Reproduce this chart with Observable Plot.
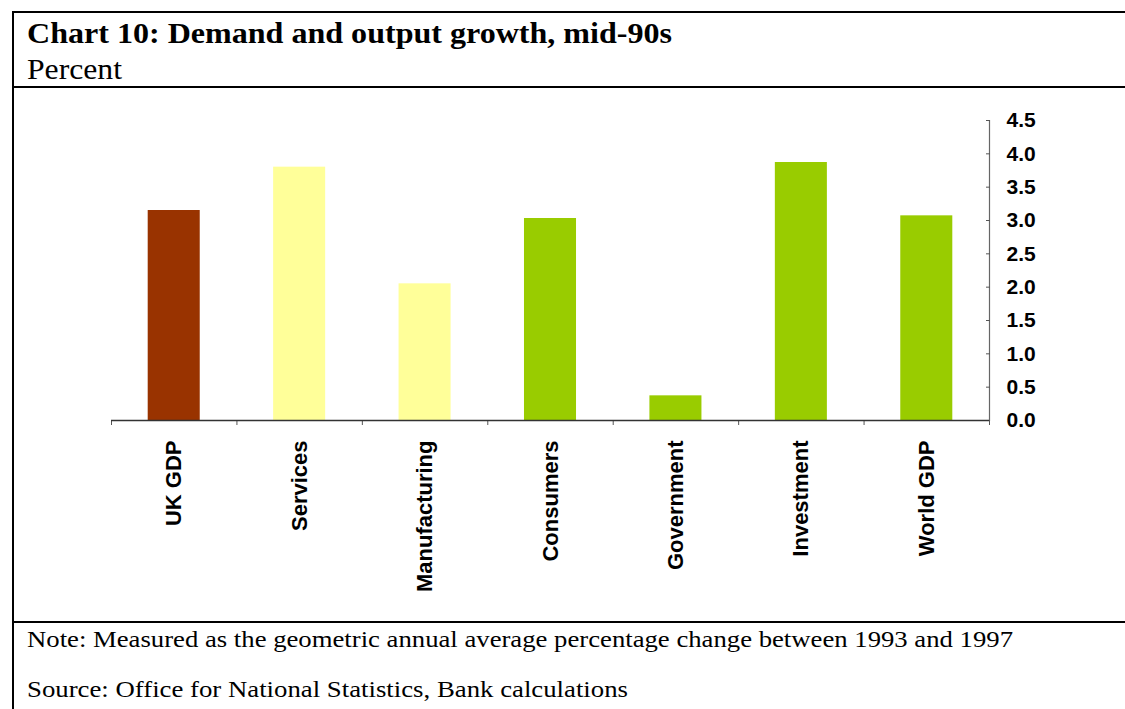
<!DOCTYPE html>
<html><head><meta charset="utf-8">
<script src="https://cdn.jsdelivr.net/npm/d3@7"></script>
<script src="https://cdn.jsdelivr.net/npm/@observablehq/plot@0.6"></script>
<style>
html,body{margin:0;padding:0;background:#fff;}
body{width:1125px;height:709px;overflow:hidden;position:relative;font-family:"Liberation Serif","Times New Roman",serif;color:#000;}
#box{position:absolute;left:12px;top:11px;width:1200px;height:800px;border-left:2px solid #000;border-top:2px solid #000;}
.hr{position:absolute;left:12px;width:1113px;height:0;border-top:2px solid #000;}
.t{position:absolute;left:27px;white-space:nowrap;line-height:1;transform-origin:0 0;}
#title{top:18px;font-weight:bold;font-size:30px;}
#sub{top:55px;font-size:29px;}
#note{top:627px;font-size:24px;}
#source{top:677px;font-size:24px;}
#chart{position:absolute;left:0;top:88px;}
</style></head>
<body>
<div id="box"></div>
<div class="hr" style="top:86px"></div>
<div class="hr" style="top:621px"></div>
<div id="title" class="t" data-w="645">Chart 10: Demand and output growth, mid-90s</div>
<div id="sub" class="t" data-w="95">Percent</div>
<div id="chart"></div>
<div id="note" class="t" data-w="986">Note: Measured as the geometric annual average percentage change between 1993 and 1997</div>
<div id="source" class="t" data-w="601">Source: Office for National Statistics, Bank calculations</div>
<script>
const categories = ["UK GDP","Services","Manufacturing","Consumers","Government","Investment","World GDP"];
const values = [3.15, 3.80, 2.05, 3.03, 0.37, 3.87, 3.07];
const groups = ["GDP","Output","Output","Demand","Demand","Demand","Demand"];
const groupNames = ["GDP","Output","Demand"];
const groupColors = ["#993300","#FFFF99","#99CC00"];
const yTicks = [0,0.5,1,1.5,2,2.5,3,3.5,4,4.5];
const yTickLabels = ["0.0","0.5","1.0","1.5","2.0","2.5","3.0","3.5","4.0","4.5"];

const data = categories.map((c,i)=>({name:c, i, value:values[i], group:groups[i]}));
const boundaries = d3.range(categories.length+1);
const labelOf = new Map(yTicks.map((t,i)=>[t,yTickLabels[i]]));

const chart = Plot.plot({
  width: 1125, height: 532,
  marginTop: 32, marginBottom: 200, marginLeft: 111, marginRight: 136,
  style: {fontFamily: "'Liberation Sans', Arial, sans-serif", background: "transparent", overflow: "visible"},
  x: {domain: [0, categories.length], axis: null},
  y: {domain: [0, 4.5], axis: null},
  color: {domain: groupNames, range: groupColors},
  marks: [
    Plot.rectY(data, {x1: d=>d.i, x2: d=>d.i+1, y1: 0, y2: "value", fill: "group", insetLeft: 36.7, insetRight: 36.7}),
    Plot.frame({anchor: "right", stroke: "#666", strokeWidth: 1.2}),
    Plot.axisY(yTicks, {anchor: "right", tickSize: 4, dx: -4, tickFormat: () => "", stroke: "#555", label: null}),
    Plot.axisY(yTicks, {anchor: "right", tickSize: 0, tickPadding: 17, tickFormat: d => labelOf.get(d), fontSize: 21, fontWeight: "bold", fill: "#000", label: null}),
    Plot.axisX(boundaries, {anchor: "bottom", tickSize: 5, tickFormat: () => "", stroke: "#555", label: null}),
    Plot.ruleY([0], {stroke: "#333", strokeWidth: 1.5}),
    Plot.text(data, {x: d=>d.i+0.5, y: 0, text: "name", rotate: -90, textAnchor: "end", lineAnchor: "middle", dy: 20, fontSize: 22, fontWeight: "bold", fill: "#000"})
  ]
});
document.getElementById("chart").appendChild(chart);

document.querySelectorAll(".t").forEach(el => {
  const target = +el.dataset.w;
  const w = el.getBoundingClientRect().width;
  if (w > 0) el.style.transform = `scaleX(${target / w})`;
});
</script>
</body></html>
